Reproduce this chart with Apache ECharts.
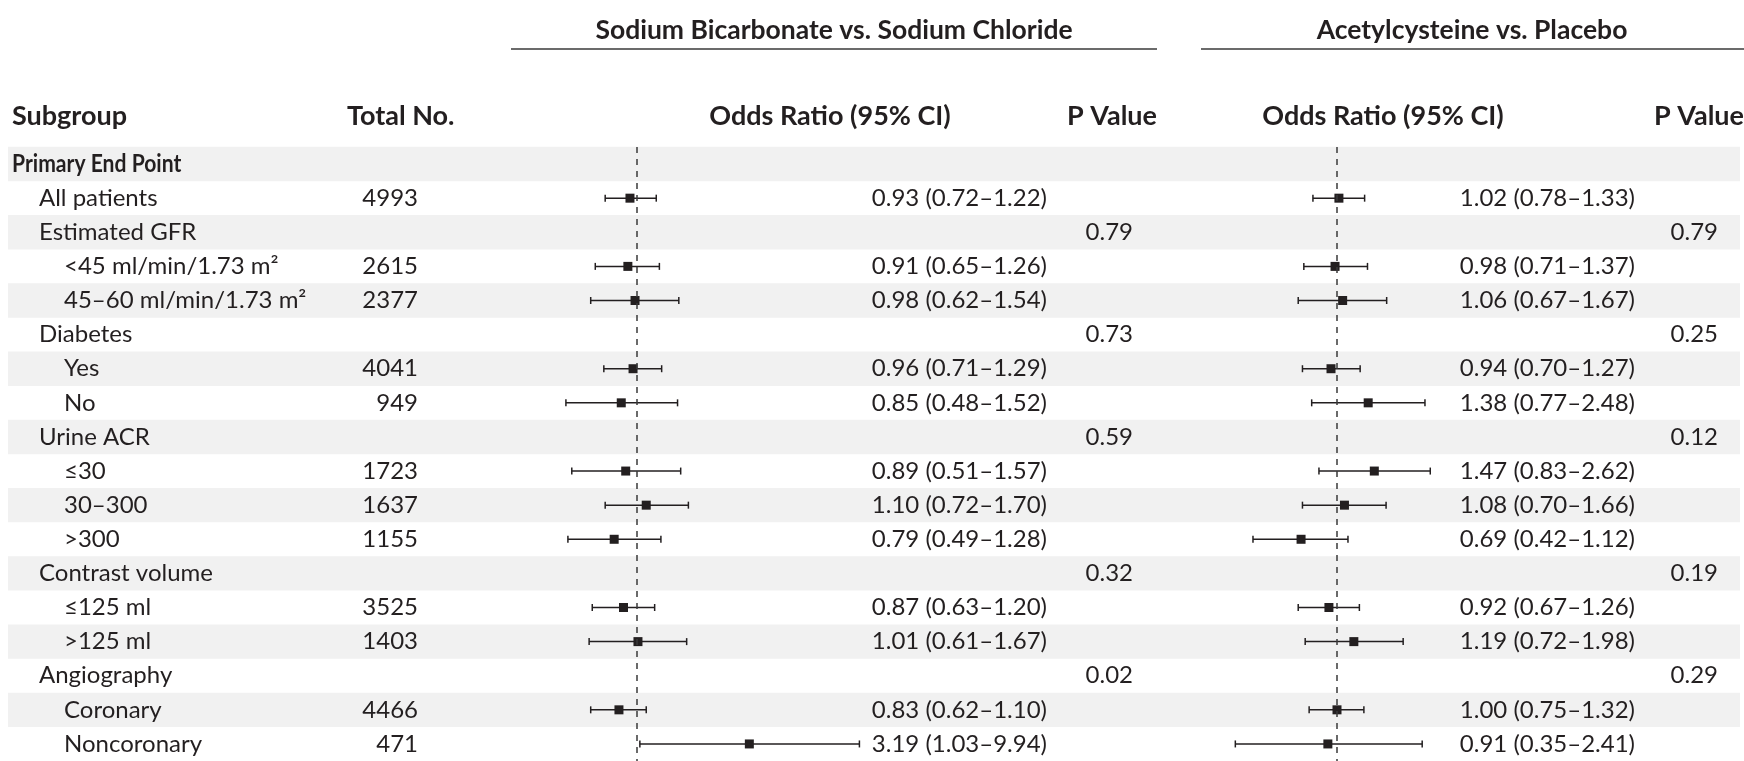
<!DOCTYPE html>
<html>
<head>
<meta charset="utf-8">
<script src="https://cdn.jsdelivr.net/npm/echarts@6/dist/echarts.min.js"></script>
<style>
  html, body { margin: 0; padding: 0; background: #fff; }
  #main { width: 1744px; height: 761px; }
</style>
</head>
<body>
<div id="main"></div>
<script>
// rows of the table
const subgroups = [
  "Primary End Point", "All patients", "Estimated GFR",
  "<45 ml/min/1.73 m²", "45–60 ml/min/1.73 m²",
  "Diabetes", "Yes", "No",
  "Urine ACR", "≤30", "30–300", ">300",
  "Contrast volume", "≤125 ml", ">125 ml",
  "Angiography", "Coronary", "Noncoronary"
];
const levels = [0, 1, 1, 2, 2, 1, 2, 2, 1, 2, 2, 2, 1, 2, 2, 1, 2, 2];
const totals = ["", "4993", "", "2615", "2377", "", "4041", "949", "", "1723", "1637", "1155", "", "3525", "1403", "", "4466", "471"];

// sodium bicarbonate vs sodium chloride
const sbOdds = [null, 0.93, null, 0.91, 0.98, null, 0.96, 0.85, null, 0.89, 1.10, 0.79, null, 0.87, 1.01, null, 0.83, 3.19];
const sbLow  = [null, 0.72, null, 0.65, 0.62, null, 0.71, 0.48, null, 0.51, 0.72, 0.49, null, 0.63, 0.61, null, 0.62, 1.03];
const sbHigh = [null, 1.22, null, 1.26, 1.54, null, 1.29, 1.52, null, 1.57, 1.70, 1.28, null, 1.20, 1.67, null, 1.10, 9.94];
const sbP    = ["", "", "0.79", "", "", "0.73", "", "", "0.59", "", "", "", "0.32", "", "", "0.02", "", ""];

// acetylcysteine vs placebo
const acOdds = [null, 1.02, null, 0.98, 1.06, null, 0.94, 1.38, null, 1.47, 1.08, 0.69, null, 0.92, 1.19, null, 1.00, 0.91];
const acLow  = [null, 0.78, null, 0.71, 0.67, null, 0.70, 0.77, null, 0.83, 0.70, 0.42, null, 0.67, 0.72, null, 0.75, 0.35];
const acHigh = [null, 1.33, null, 1.37, 1.67, null, 1.27, 2.48, null, 2.62, 1.66, 1.12, null, 1.26, 1.98, null, 1.32, 2.41];
const acP    = ["", "", "0.79", "", "", "0.25", "", "", "0.12", "", "", "", "0.19", "", "", "0.29", "", ""];

const INK = "#231f20";
const FONT = "Lato";
const ROW_TOP = 147, ROW_H = 34.4;
const indentX = [12, 39, 64];

let fmt = (v) => v.toFixed(2);
let ciText = (odds, low, high, i) =>
  odds[i] == null ? "" : fmt(odds[i]) + " (" + fmt(low[i]) + "–" + fmt(high[i]) + ")";

let txt = (text, x, y, align, bold, size) => ({
  type: "text",
  x: x, y: y,
  style: {
    text: text,
    font: (bold ? "bold " : "") + (size || 24) + "px " + FONT,
    fill: INK,
    align: align, verticalAlign: "middle",
    textAlign: align, textVerticalAlign: "middle"
  }
});

let forestData = (odds, low, high) =>
  odds.map((o, i) => (o == null ? null : [low[i], high[i], o, i])).filter(Boolean);
let pointData = (odds) =>
  odds.map((o, i) => (o == null ? null : [o, i])).filter(Boolean);

let renderCI = (params, api) => {
  let row = api.value(3);
  let a = api.coord([api.value(0), row]);
  let b = api.coord([api.value(1), row]);
  let y = a[1], cap = 3.5;
  let st = { stroke: INK, lineWidth: 1.5 };
  return {
    type: "group",
    children: [
      { type: "line", shape: { x1: a[0], y1: y, x2: b[0], y2: y }, style: st },
      { type: "line", shape: { x1: a[0], y1: y - cap, x2: a[0], y2: y + cap }, style: st },
      { type: "line", shape: { x1: b[0], y1: y - cap, x2: b[0], y2: y + cap }, style: st }
    ]
  };
};

let renderStripe = (params, api) => {
  let row = api.value(1);
  if (row % 2 !== 0) return null;
  let y = api.coord([0, row])[1];
  return {
    type: "rect",
    shape: { x: 8, y: y - ROW_H / 2, width: 1732, height: ROW_H },
    style: { fill: "#f1f1f1" }
  };
};

let renderRow = (params, api) => {
  let i = api.value(1);
  let y = api.coord([0, i])[1];
  let label = txt(subgroups[i], indentX[levels[i]], y, "left", levels[i] === 0);
  if (levels[i] === 0) label.scaleX = 0.88; // header row font is condensed bold
  return {
    type: "group",
    children: [
      label,
      txt(totals[i], 418, y, "right"),
      txt(ciText(sbOdds, sbLow, sbHigh, i), 1047, y, "right"),
      txt(sbP[i], 1133, y, "right"),
      txt(ciText(acOdds, acLow, acHigh, i), 1635, y, "right"),
      txt(acP[i], 1718, y, "right")
    ]
  };
};

let rowIdx = subgroups.map((_, i) => [0, i]);
let refLine = {
  silent: true,
  symbol: "none",
  label: { show: false },
  lineStyle: { type: [6, 6], color: "#3a3a3a", width: 1.5 },
  data: [{ xAxis: 1 }]
};

let element = document.getElementById("main");
let myChart = echarts.init(element);
let gridH = ROW_H * subgroups.length;
let option = {
  animation: false,
  grid: [
    { left: 0, top: ROW_TOP, width: 1744, height: gridH },
    { left: 637 - 223, top: ROW_TOP, width: 446, height: gridH },
    { left: 1337 - 223, top: ROW_TOP, width: 446, height: gridH }
  ],
  xAxis: [
    { type: "value", gridIndex: 0, min: 0, max: 1, show: false },
    { type: "log", gridIndex: 1, min: 0.1, max: 10, show: false },
    { type: "log", gridIndex: 2, min: 0.1, max: 10, show: false }
  ],
  yAxis: [0, 1, 2].map((g) => ({
    type: "category", gridIndex: g, data: subgroups, inverse: true, show: false
  })),
  graphic: [
    txt("Sodium Bicarbonate vs. Sodium Chloride", 834, 30, "center", true, 26.5),
    txt("Acetylcysteine vs. Placebo", 1472, 30, "center", true, 26.5),
    { type: "line", shape: { x1: 511, y1: 49, x2: 1157, y2: 49 }, style: { stroke: "#3a3a3a", lineWidth: 1.5 } },
    { type: "line", shape: { x1: 1201, y1: 49, x2: 1744, y2: 49 }, style: { stroke: "#3a3a3a", lineWidth: 1.5 } },
    txt("Subgroup", 12, 116, "left", true, 27),
    txt("Total No.", 347, 116, "left", true, 27),
    txt("Odds Ratio (95% CI)", 830, 116, "center", true, 27),
    txt("P Value", 1157, 116, "right", true, 27),
    txt("Odds Ratio (95% CI)", 1383, 116, "center", true, 27),
    txt("P Value", 1744, 116, "right", true, 27)
  ],
  series: [
    {
      type: "custom", xAxisIndex: 0, yAxisIndex: 0, z: 1,
      renderItem: renderStripe, data: rowIdx, silent: true
    },
    {
      type: "custom", xAxisIndex: 1, yAxisIndex: 1, z: 3,
      renderItem: renderCI, encode: { x: [0, 1, 2], y: 3 },
      data: forestData(sbOdds, sbLow, sbHigh)
    },
    {
      type: "scatter", xAxisIndex: 1, yAxisIndex: 1, z: 4,
      symbol: "rect", symbolSize: 9, itemStyle: { color: INK, opacity: 1 },
      data: pointData(sbOdds), markLine: refLine
    },
    {
      type: "custom", xAxisIndex: 2, yAxisIndex: 2, z: 3,
      renderItem: renderCI, encode: { x: [0, 1, 2], y: 3 },
      data: forestData(acOdds, acLow, acHigh)
    },
    {
      type: "scatter", xAxisIndex: 2, yAxisIndex: 2, z: 4,
      symbol: "rect", symbolSize: 9, itemStyle: { color: INK, opacity: 1 },
      data: pointData(acOdds), markLine: refLine
    },
    {
      type: "custom", xAxisIndex: 0, yAxisIndex: 0, z: 5,
      renderItem: renderRow, data: rowIdx, silent: true
    }
  ]
};
myChart.setOption(option);
</script>
</body>
</html>
